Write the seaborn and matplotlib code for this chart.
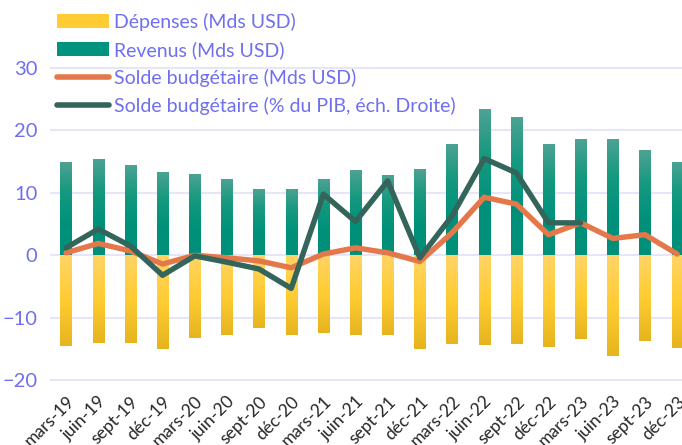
import numpy as np
import pandas as pd
import matplotlib
matplotlib.use("Agg")
import matplotlib.pyplot as plt
from matplotlib.colors import LinearSegmentedColormap
from matplotlib.patches import Patch
from matplotlib.lines import Line2D
import seaborn as sns

trimestres = ["mars-19", "juin-19", "sept-19", "déc-19", "mars-20", "juin-20", "sept-20", "déc-20",
              "mars-21", "juin-21", "sept-21", "déc-21", "mars-22", "juin-22", "sept-22", "déc-22",
              "mars-23", "juin-23", "sept-23", "déc-23"]
revenus = [14.9, 15.5, 14.4, 13.4, 13.0, 12.3, 10.6, 10.7, 12.3, 13.6,
           12.8, 13.9, 17.8, 23.4, 22.2, 17.8, 18.7, 18.6, 16.8, 15.0]
depenses = [-14.6, -14.0, -14.1, -15.0, -13.3, -12.8, -11.6, -12.8, -12.5, -12.8,
            -12.8, -15.0, -14.2, -14.4, -14.2, -14.7, -13.4, -16.1, -13.8, -14.9]
solde = [0.4, 1.9, 0.7, -1.4, 0.0, -0.4, -0.9, -2.0, 0.2, 1.2,
         0.4, -1.0, 3.6, 9.3, 8.2, 3.3, 5.2, 2.7, 3.3, 0.2]
solde_pib = [1.2, 4.2, 1.5, -3.2, -0.1, -1.1, -2.2, -5.3, 9.8, 5.4,
             11.9, -0.4, 6.3, 15.5, 13.2, 5.2, 5.2, np.nan, np.nan, np.nan]

bleu = "#6F6FEF"
vert_bar = "#00927D"
jaune_bar = "#FFCC33"
orange = "#E5784A"
vert_fonce = "#33655B"

sns.set_style("white")
plt.rcParams["font.family"] = ["Lato", "DejaVu Sans"]

fig = plt.figure(figsize=(6.82, 4.45), dpi=100)
ax = fig.add_axes([50 / 682, 53 / 445, 632 / 682, 392 / 445])

df = pd.DataFrame({"trimestre": trimestres, "revenus": revenus, "depenses": depenses})
sns.barplot(data=df, x="trimestre", y="revenus", color=vert_bar, width=0.35, ax=ax, zorder=2)
sns.barplot(data=df, x="trimestre", y="depenses", color=jaune_bar, width=0.35, ax=ax, zorder=2)

# gradients sur les barres
cmap_vert = LinearSegmentedColormap.from_list("v", ["#4DA293", "#14997F", "#00917B", "#00907A"])
cmap_jaune = LinearSegmentedColormap.from_list("j", ["#FFD466", "#FFCC33", "#E6B41E"])
n = len(trimestres)
grad = np.linspace(0, 1, 100).reshape(-1, 1)
for i, p in enumerate(ax.patches):
    x0, w = p.get_x(), p.get_width()
    y0, h = p.get_y(), p.get_height()
    lo, hi = min(y0, y0 + h), max(y0, y0 + h)
    cm = cmap_vert if i < n else cmap_jaune
    im = ax.imshow(grad, extent=[x0, x0 + w, lo, hi], aspect="auto", cmap=cm,
                   origin="upper", zorder=2)
    im.set_clip_path(p)
    p.set_facecolor("none")
    p.set_edgecolor("none")

xs = np.arange(n)
sns.lineplot(x=xs, y=solde, color=orange, linewidth=3.9, ax=ax, zorder=4,
             solid_capstyle="round", solid_joinstyle="round")

# échelle de droite (cachée)
ax2 = ax.twinx()
ax2.plot(xs, solde_pib, color=vert_fonce, linewidth=3.9, zorder=5,
         solid_capstyle="round", solid_joinstyle="round")

ylim = (-21.9, 40.9)
for a in (ax, ax2):
    a.set_ylim(*ylim)
    a.set_xlim(-0.5, 19.15)
ax2.set_yticks([])
for s in ax2.spines.values():
    s.set_visible(False)

ax.set_yticks([-20, -10, 0, 10, 20, 30])
ax.yaxis.grid(True, color="#E6E6FA", linewidth=1.5, zorder=0)
ax.set_axisbelow(True)
ax.tick_params(axis="y", labelsize=14.5, labelcolor=bleu, length=0, pad=9)
ax.set_xticks(xs)
ax.set_xticklabels(trimestres, rotation=45, ha="right", rotation_mode="anchor",
                   fontsize=12.5, color="#262626")
ax.tick_params(axis="x", length=0, pad=1)
ax.set_xlabel("")
ax.set_ylabel("")
for s in ax.spines.values():
    s.set_visible(False)

handles = [Patch(facecolor="#FFCC33", edgecolor="none"),
           Patch(facecolor="#00937E", edgecolor="none"),
           Line2D([], [], color=orange, linewidth=4, solid_capstyle="round"),
           Line2D([], [], color=vert_fonce, linewidth=4, solid_capstyle="round")]
labels = ["Dépenses (Mds USD)", "Revenus (Mds USD)", "Solde budgétaire (Mds USD)",
          "Solde budgétaire (% du PIB, éch. Droite)"]
leg = fig.legend(handles, labels, loc="upper left", bbox_to_anchor=(46 / 682, 1.0 - 2 / 445),
                 frameon=False, fontsize=14, labelcolor=bleu, handlelength=2.7,
                 handletextpad=0.25, labelspacing=0.52, borderaxespad=0.15)

fig.savefig("out.png", dpi=100)
